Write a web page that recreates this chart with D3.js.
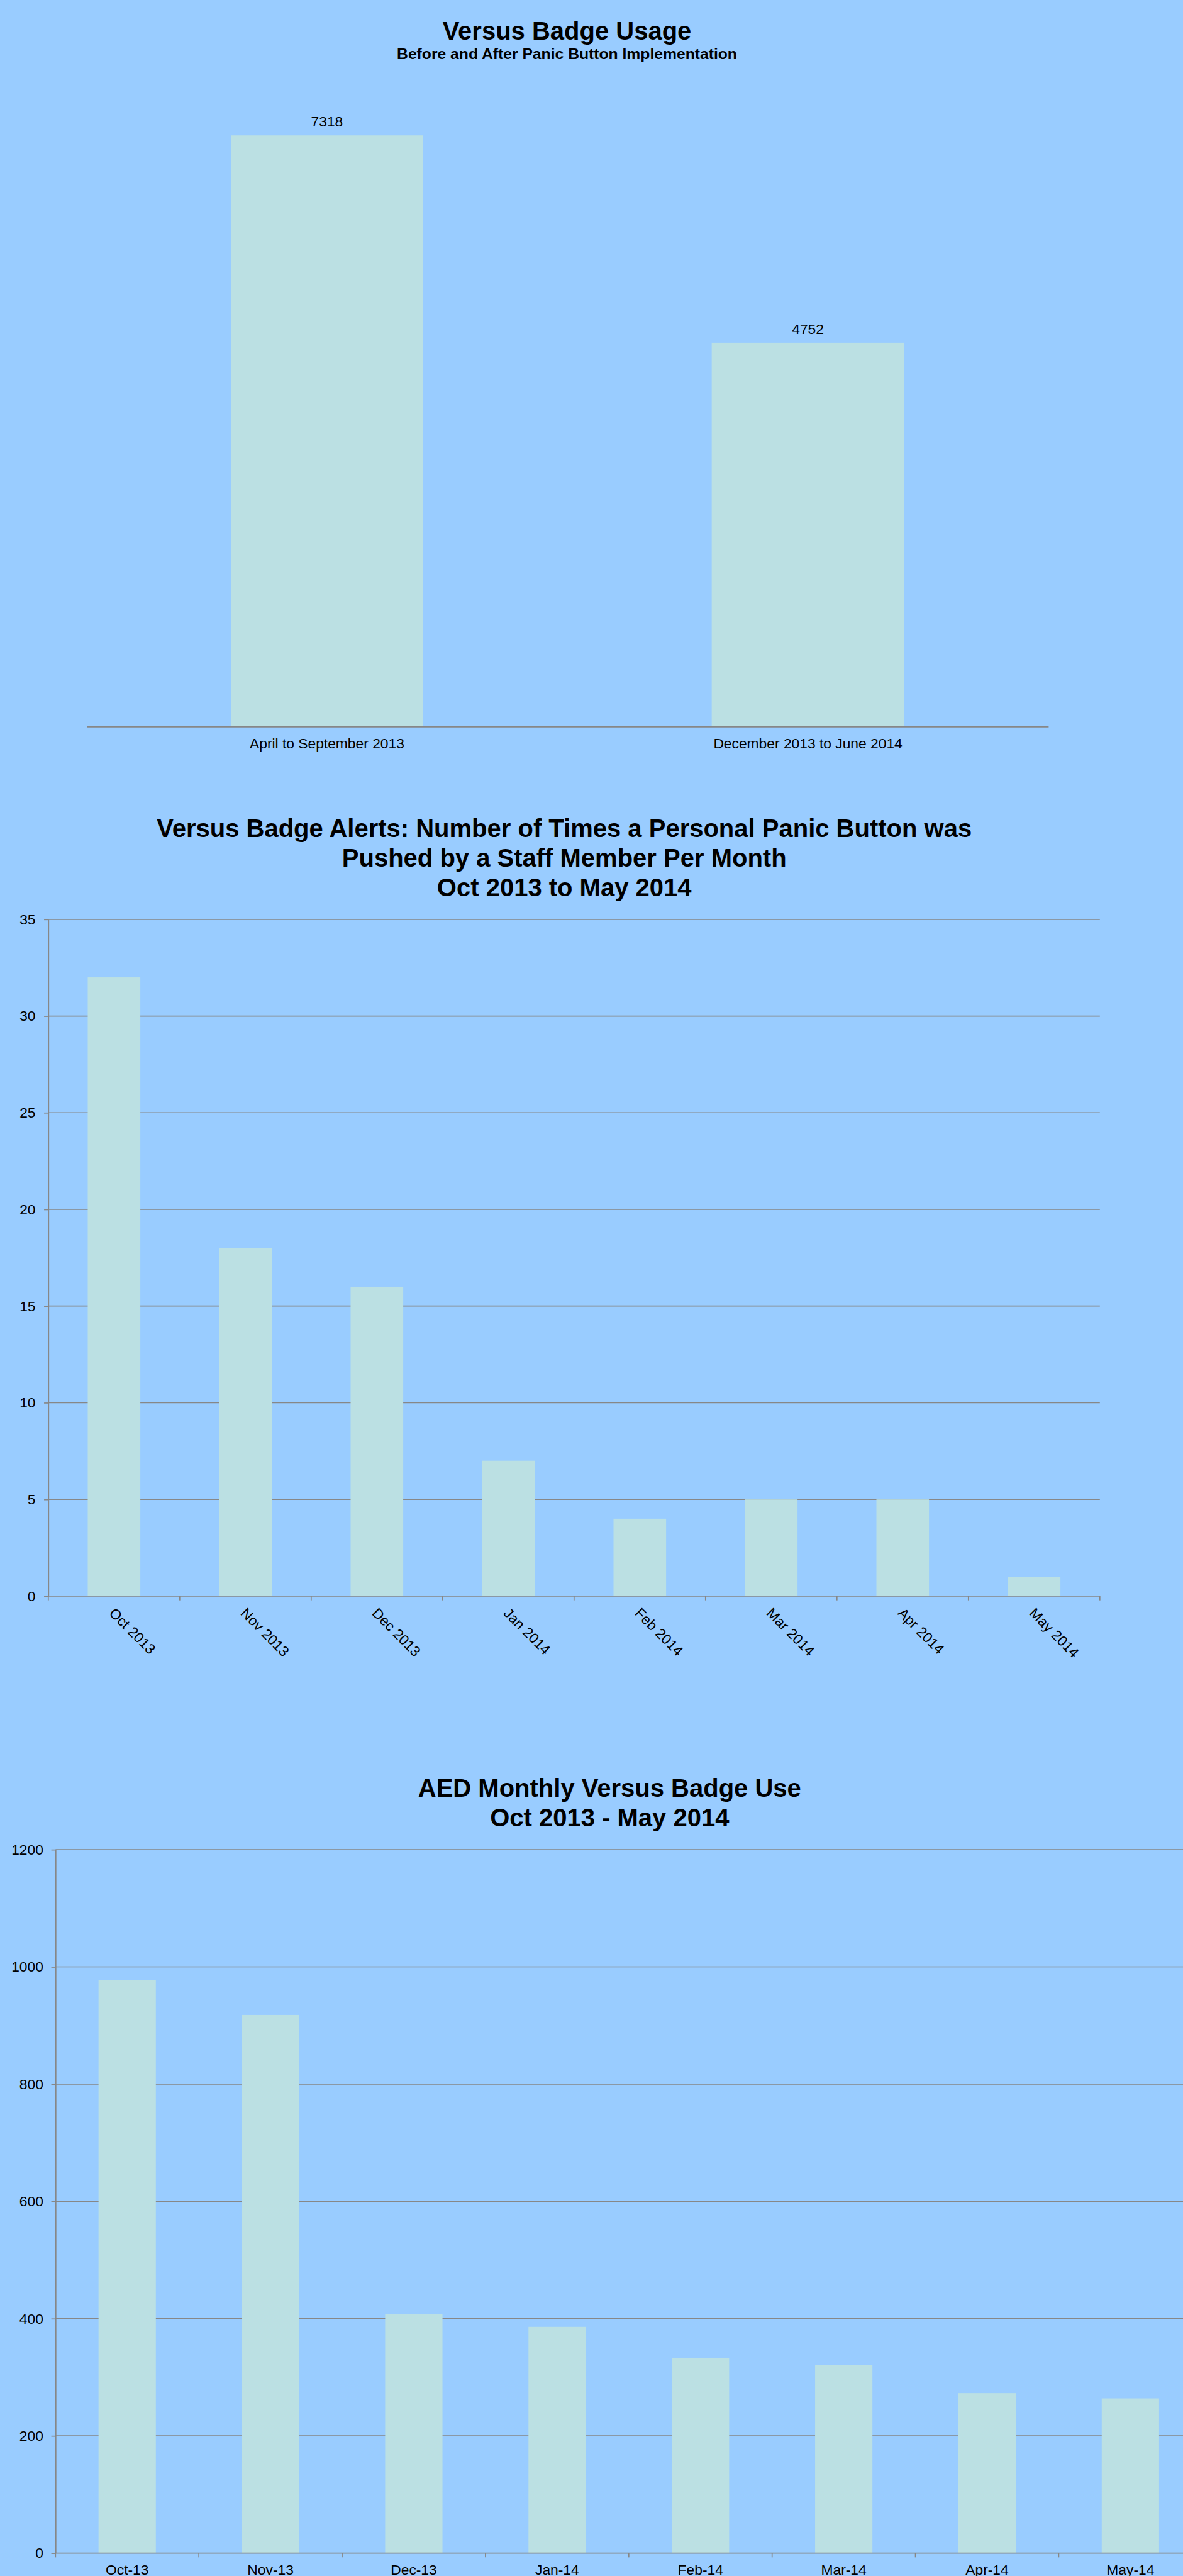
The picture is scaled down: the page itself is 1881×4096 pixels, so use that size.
<!DOCTYPE html>
<html>
<head>
<meta charset="utf-8">
<script src="https://cdn.jsdelivr.net/npm/d3@7/dist/d3.min.js"></script>
<style>
  html, body { margin: 0; padding: 0; background: #99CCFF; }
  svg { display: block; }
  text { font-family: "Liberation Sans", Arial, sans-serif; fill: #000; }
</style>
</head>
<body>
<script>
// ---------- DATA ----------
const usageTitle = "Versus Badge Usage";
const usageSubtitle = "Before and After Panic Button Implementation";
const usageCategories = ["April to September 2013", "December 2013 to June 2014"];
const usageValues = [7318, 4752];

const alertTitle = [
  "Versus Badge Alerts: Number of Times a Personal Panic Button was",
  "Pushed by a Staff Member Per Month",
  "Oct 2013 to May 2014"
];
const alertMonths = ["Oct 2013", "Nov 2013", "Dec 2013", "Jan 2014", "Feb 2014", "Mar 2014", "Apr 2014", "May 2014"];
const alertValues = [32, 18, 16, 7, 4, 5, 5, 1];
const alertTicks = [0, 5, 10, 15, 20, 25, 30, 35];

const aedTitle = ["AED Monthly Versus Badge Use", "Oct 2013 - May 2014"];
const aedMonths = ["Oct-13", "Nov-13", "Dec-13", "Jan-14", "Feb-14", "Mar-14", "Apr-14", "May-14"];
const aedValues = [978, 918, 408, 386, 333, 321, 273, 264];
const aedTicks = [0, 200, 400, 600, 800, 1000, 1200];

// ---------- STYLE ----------
const W = 1881, H = 4096;
const BG = "#99CCFF", BAR = "#BBE0E3", GRID = "#878787";
const FS = 22.8, TITLE_FS = 40, LW = 1.7, TICK = 6.75;

const svg = d3.select("body").append("svg").attr("width", W).attr("height", H);
svg.append("rect").attr("width", W).attr("height", H).attr("fill", BG);

function styleAxis(g) {
  g.selectAll(".domain").attr("stroke", GRID).attr("stroke-width", LW);
  g.selectAll(".tick line").attr("stroke", GRID).attr("stroke-width", LW);
  g.selectAll("text").attr("font-size", FS).attr("fill", "#000")
    .attr("font-family", '"Liberation Sans", Arial, sans-serif');
}

// ---------- CHART 1 ----------
{
  const g = svg.append("g");
  const cx = 901.5;
  g.append("text").attr("x", cx).attr("y", 62.5).attr("text-anchor", "middle")
    .attr("font-size", TITLE_FS).attr("font-weight", "bold").text(usageTitle);
  g.append("text").attr("x", cx).attr("y", 94.3).attr("text-anchor", "middle")
    .attr("font-size", 24.7).attr("font-weight", "bold").text(usageSubtitle);

  const x = d3.scaleBand().domain(usageCategories).range([137.6, 1666.9]);
  const y = d3.scaleLinear().domain([0, 8000]).range([1155.4, 127.6]);
  const bw = x.bandwidth();

  g.selectAll("rect.bar").data(usageCategories).join("rect").attr("class", "bar")
    .attr("x", d => x(d) + bw * 0.3).attr("width", bw * 0.4)
    .attr("y", (d, i) => y(usageValues[i]))
    .attr("height", (d, i) => y(0) - y(usageValues[i]))
    .attr("fill", BAR);

  g.selectAll("text.val").data(usageCategories).join("text").attr("class", "val")
    .attr("x", d => x(d) + bw / 2).attr("y", (d, i) => y(usageValues[i]) - 14.3)
    .attr("text-anchor", "middle").attr("font-size", FS)
    .text((d, i) => usageValues[i]);

  const ax = g.append("g").attr("transform", `translate(0,${y(0)})`)
    .call(d3.axisBottom(x).tickSize(0).tickSizeOuter(0).tickPadding(18.4));
  styleAxis(ax);
}

// ---------- CHART 2 ----------
{
  const g = svg.append("g");
  const cx = 897.2;
  g.selectAll("text.title").data(alertTitle).join("text").attr("class", "title")
    .attr("x", cx).attr("y", (d, i) => 1331 + i * 46.9).attr("text-anchor", "middle")
    .attr("font-size", TITLE_FS).attr("font-weight", "bold").text(d => d);

  const x = d3.scaleBand().domain(alertMonths).range([76.8, 1748.8]);
  const y = d3.scaleLinear().domain([0, 35]).range([2537.9, 1461.8]);
  const bw = x.bandwidth();
  const [x0, x1] = x.range();

  // gridlines
  g.selectAll("line.grid").data(alertTicks.filter(t => t > 0)).join("line").attr("class", "grid")
    .attr("x1", x0).attr("x2", x1).attr("y1", d => y(d)).attr("y2", d => y(d))
    .attr("stroke", GRID).attr("stroke-width", LW);

  g.selectAll("rect.bar").data(alertMonths).join("rect").attr("class", "bar")
    .attr("x", d => x(d) + bw * 0.3).attr("width", bw * 0.4)
    .attr("y", (d, i) => y(alertValues[i]))
    .attr("height", (d, i) => y(0) - y(alertValues[i]))
    .attr("fill", BAR);

  const ay = g.append("g").attr("transform", `translate(${x0},0)`)
    .call(d3.axisLeft(y).tickValues(alertTicks).tickFormat(d3.format("d"))
      .tickSizeInner(TICK).tickSizeOuter(0).tickPadding(13.5));
  styleAxis(ay);

  // x axis line with ticks at band boundaries
  const xa = g.append("g").attr("transform", `translate(0,${y(0)})`);
  xa.append("line").attr("x1", x0).attr("x2", x1).attr("stroke", GRID).attr("stroke-width", LW);
  const bounds = alertMonths.map(d => x(d)).concat([x1]);
  xa.selectAll("line.tk").data(bounds).join("line").attr("class", "tk")
    .attr("x1", d => d).attr("x2", d => d).attr("y1", 0).attr("y2", TICK)
    .attr("stroke", GRID).attr("stroke-width", LW);
  xa.selectAll("text").data(alertMonths).join("text")
    .attr("transform", d => `translate(${x(d) + bw / 2 - 3.4},22.8) rotate(45)`)
    .attr("dy", "0.35em").attr("text-anchor", "start").attr("font-size", FS)
    .text(d => d);
}

// ---------- CHART 3 ----------
{
  const g = svg.append("g");
  const cx = 969.3;
  g.selectAll("text.title").data(aedTitle).join("text").attr("class", "title")
    .attr("x", cx).attr("y", (d, i) => 2857 + i * 47.3).attr("text-anchor", "middle")
    .attr("font-size", TITLE_FS).attr("font-weight", "bold").text(d => d);

  const x = d3.scaleBand().domain(aedMonths).range([88.3, 1911.3]);
  const y = d3.scaleLinear().domain([0, 1200]).range([4059.6, 2941.1]);
  const bw = x.bandwidth();
  const [x0, x1] = x.range();

  g.selectAll("line.grid").data(aedTicks.filter(t => t > 0)).join("line").attr("class", "grid")
    .attr("x1", x0).attr("x2", x1).attr("y1", d => y(d)).attr("y2", d => y(d))
    .attr("stroke", GRID).attr("stroke-width", LW);

  g.selectAll("rect.bar").data(aedMonths).join("rect").attr("class", "bar")
    .attr("x", d => x(d) + bw * 0.3).attr("width", bw * 0.4)
    .attr("y", (d, i) => y(aedValues[i]))
    .attr("height", (d, i) => y(0) - y(aedValues[i]))
    .attr("fill", BAR);

  const ay = g.append("g").attr("transform", `translate(${x0},0)`)
    .call(d3.axisLeft(y).tickValues(aedTicks).tickFormat(d3.format("d"))
      .tickSizeInner(TICK).tickSizeOuter(0).tickPadding(12.7));
  styleAxis(ay);

  const xa = g.append("g").attr("transform", `translate(0,${y(0)})`);
  xa.append("line").attr("x1", x0).attr("x2", x1).attr("stroke", GRID).attr("stroke-width", LW);
  const bounds = aedMonths.map(d => x(d)).concat([x1]);
  xa.selectAll("line.tk").data(bounds).join("line").attr("class", "tk")
    .attr("x1", d => d).attr("x2", d => d).attr("y1", 0).attr("y2", TICK)
    .attr("stroke", GRID).attr("stroke-width", LW);
  xa.selectAll("text").data(aedMonths).join("text")
    .attr("x", d => x(d) + bw / 2).attr("y", 34.6)
    .attr("text-anchor", "middle").attr("font-size", FS)
    .text(d => d);
}
</script>
</body>
</html>
